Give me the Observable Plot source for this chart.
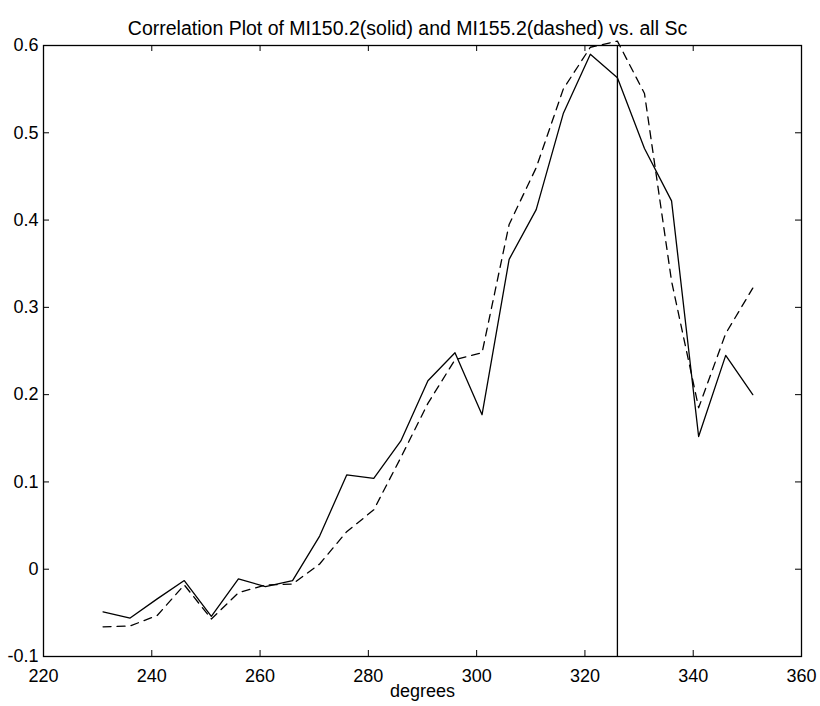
<!DOCTYPE html>
<html><head><meta charset="utf-8">
<script src="https://cdn.jsdelivr.net/npm/d3@7"></script>
<script src="https://cdn.jsdelivr.net/npm/@observablehq/plot@0.6"></script>
<style>body{margin:0;background:#fff;} svg{display:block}</style>
</head><body><div id="chart"></div>
<script>
const degrees = [231,236,241,246,251,256,261,266,271,276,281,286,291,296,301,306,311,316,321,326,331,336,341,346,351];
const solidValues = [-0.049,-0.056,-0.034,-0.013,-0.054,-0.011,-0.020,-0.013,0.038,0.108,0.104,0.147,0.216,0.248,0.177,0.355,0.412,0.522,0.590,0.563,0.482,0.422,0.152,0.245,0.200];
const dashedValues = [-0.066,-0.065,-0.053,-0.018,-0.057,-0.027,-0.018,-0.017,0.006,0.043,0.068,0.128,0.190,0.240,0.248,0.395,0.460,0.550,0.598,0.605,0.545,0.330,0.185,0.270,0.322];
const xTicks = [220,240,260,280,300,320,340,360];
const yTicks = [-0.1,0,0.1,0.2,0.3,0.4,0.5,0.6];
const markerDegree = [326];
const titleText = "Correlation Plot of MI150.2(solid) and MI155.2(dashed) vs. all Sc";
const xLabel = "degrees";

const solid = degrees.map((d, i) => ({deg: d, r: solidValues[i]}));
const dashed = degrees.map((d, i) => ({deg: d, r: dashedValues[i]}));

const W = 820, H = 706, mL = 43, mR = 19, mT = 45, mB = 50;
const fw = W - mL - mR, fh = H - mT - mB, tk = 6;

const chart = Plot.plot({
  width: W, height: H,
  marginLeft: mL, marginRight: mR, marginTop: mT, marginBottom: mB,
  style: {fontFamily: "'Liberation Sans', Arial, Helvetica, sans-serif", background: "#fff", color: "#000"},
  x: {domain: [220, 360]},
  y: {domain: [-0.1, 0.6]},
  marks: [
    Plot.frame({stroke: "#000", strokeWidth: 1.3}),
    Plot.tickX(xTicks, {x: d => d, insetTop: fh - tk, stroke: "#000"}),
    Plot.tickX(xTicks, {x: d => d, insetBottom: fh - tk, stroke: "#000"}),
    Plot.tickY(yTicks, {y: d => d, insetRight: fw - tk, stroke: "#000"}),
    Plot.tickY(yTicks, {y: d => d, insetLeft: fw - tk, stroke: "#000"}),
    Plot.axisX(xTicks, {tickSize: 0, tickPadding: 13, fontSize: 18, label: null, tickFormat: d => String(d)}),
    Plot.axisY(yTicks, {tickSize: 0, tickPadding: 5, fontSize: 18, label: null, tickFormat: d => d === 0 ? "0" : d.toFixed(1)}),
    Plot.ruleX(markerDegree, {stroke: "#000", strokeWidth: 1.3}),
    Plot.line(dashed, {x: "deg", y: "r", stroke: "#000", strokeWidth: 1.3, strokeDasharray: "8,6"}),
    Plot.line(solid, {x: "deg", y: "r", stroke: "#000", strokeWidth: 1.3}),
    Plot.text([xLabel], {frameAnchor: "bottom", dy: 40, fontSize: 18, fill: "#000"}),
    Plot.text([titleText], {frameAnchor: "top", dy: -24, dx: -15, fontSize: 19.5, fill: "#000"})
  ]
});
document.getElementById("chart").append(chart);
</script>
</body></html>
